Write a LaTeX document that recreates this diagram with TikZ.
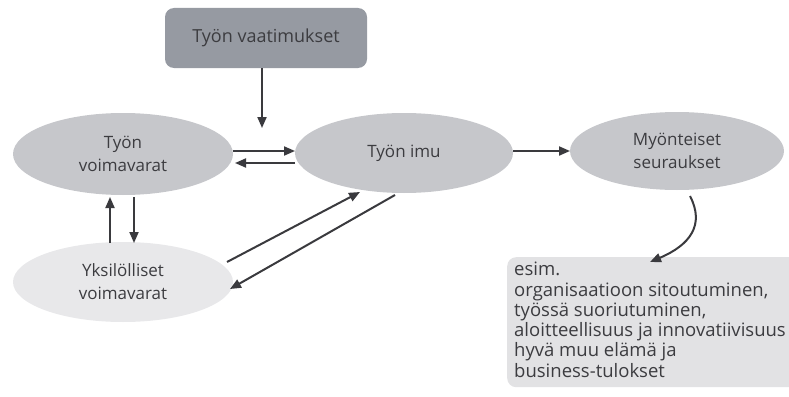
\documentclass[tikz,border=0pt]{standalone}
\usepackage{fontspec}
\setmainfont{Open Sans}
\usetikzlibrary{shapes.geometric,arrows.meta}
\definecolor{txt}{HTML}{3C3C40}
\definecolor{arr}{HTML}{3A3A3E}
\definecolor{ellfill}{HTML}{C6C7CB}
\definecolor{lightfill}{HTML}{E8E8EA}
\definecolor{topfill}{HTML}{969AA2}
\definecolor{boxfill}{HTML}{E2E2E4}
\tikzset{
  ell/.style={ellipse, fill=ellfill, inner sep=0pt, text=txt, align=center,
    font=\fontsize{17}{23}\selectfont},
  conn/.style={draw=arr, line width=2pt, -{Triangle[length=11pt,width=9pt]}},
}
\begin{document}
\begin{tikzpicture}[x=1pt,y=-1pt]
\useasboundingbox (0,0) rectangle (789,396);
\begin{scope}
\clip (0,0) rectangle (789,396);
\node[fill=topfill, rounded corners=9pt, minimum width=202pt, minimum height=60pt,
  text=txt, font=\fontsize{18}{22}\selectfont] (dem) at (266,38) {Työn vaatimukset};
\node[ell, minimum width=220pt, minimum height=82pt] (res) at (123,154) {Työn\\voimavarat};
\node[ell, minimum width=218pt, minimum height=80pt] (eng) at (404,153) {Työn imu};
\node[ell, minimum width=214pt, minimum height=78pt] (pos) at (677,151) {Myönteiset\\seuraukset};
\node[ell, fill=lightfill, minimum width=220pt, minimum height=80pt] (ind) at (123,282) {Yksilölliset\\voimavarat};
\node[fill=boxfill, rounded corners=9pt, minimum width=320pt, minimum height=130pt,
  anchor=north west, inner sep=0pt] (box) at (507,257) {};
\node[anchor=north west, align=left, text=txt, inner sep=0pt,
  font=\fontsize{18.5}{20.3}\selectfont] (boxtxt) at (514,262)
  {esim.\\organisaatioon sitoutuminen,\\työssä suoriutuminen,\\aloitteellisuus ja innovatiivisuus\\hyvä muu elämä ja\\business-tulokset};
\end{scope}
\coordinate (demA) at (262,128);
\draw[conn] (dem.south -| demA) -- (demA);
\draw[conn] (233,151) -- (295,151);
\draw[conn] (295,163) -- (235,163);
\draw[conn] (513,151) -- (570,151);
\draw[conn] (110,243) -- (110,197);
\draw[conn] (134,197) -- (134,243);
\draw[conn] (227,262) -- (360,192);
\draw[conn] (395,195) -- (230,289);
\draw[conn] (690,196) .. controls (705,225) and (690,245) .. (650,262);
\end{tikzpicture}
\end{document}
